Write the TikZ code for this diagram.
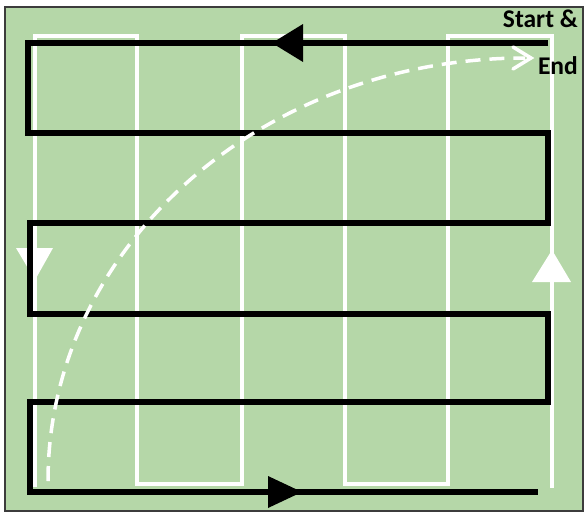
\documentclass[tikz,border=0pt]{standalone}
\usepackage{fontspec}
\setmainfont{Carlito}
\definecolor{field}{RGB}{181,215,168}
\definecolor{edge}{RGB}{60,60,60}
\tikzset{
  lane/.style={white, line width=4.5pt, line join=miter},
  route/.style={black, line width=5.5pt, line join=miter},
  blackhead/.style={fill=black, draw=none},
  whitehead/.style={fill=white, draw=none},
  sweep/.style={white, line width=3.5pt, dash pattern=on 15pt off 9pt},
  label/.style={font=\bfseries\fontsize{25.5}{28}\selectfont, anchor=base east, inner sep=0pt}
}
\begin{document}
\begin{tikzpicture}[x=1pt,y=-1pt]
  \useasboundingbox (0,0) rectangle (585,514);
  % field
  \fill[white] (0,0) rectangle (585,514);
  \draw[fill=field, draw=edge, line width=1.2pt] (5,7) rectangle (583,511);

  % white lane markings
  \draw[lane] (35,487) -- (35,36) -- (137,36) -- (137,484) -- (242,484)
    -- (242,36) -- (345,36) -- (345,484) -- (448,484) -- (448,36)
    -- (552,36) -- (552,488);

  % white direction markers
  \fill[whitehead] (16,248) -- (53,248) -- (35,280) -- cycle;
  \fill[whitehead] (532,282) -- (571,282) -- (552,250) -- cycle;

  % black back-and-forth route
  \draw[route] (548,43) -- (28,43) -- (28,133) -- (548,133) -- (548,223)
    -- (30,223) -- (30,314) -- (548,314) -- (548,402) -- (30,402)
    -- (30,492) -- (538,492);

  % black direction markers
  \fill[blackhead] (272,43) -- (303,24) -- (303,62) -- cycle;
  \fill[blackhead] (302,492) -- (268,476) -- (268,508) -- cycle;

  % dashed sweep back to the start
  \draw[sweep] (48,481) arc[start angle=180, end angle=90, x radius=477pt, y radius=423pt];
  \draw[white, line width=3.5pt, line cap=round, line join=miter] (513,47) -- (531,58) -- (513,69);

  % labels
  \node[label] (start) at (578,27) {Start \&};
  \node[label] (end) at (578,74) {End};
\end{tikzpicture}
\end{document}
